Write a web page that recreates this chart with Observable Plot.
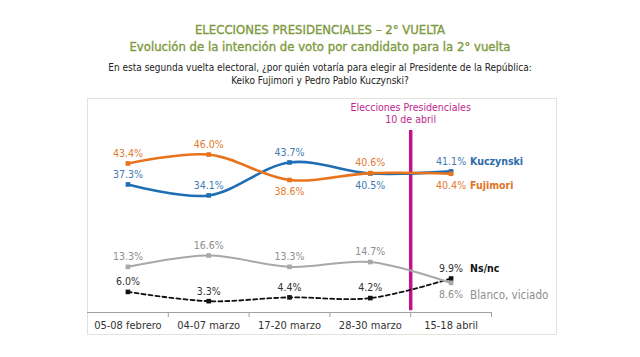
<!DOCTYPE html>
<html><head><meta charset="utf-8">
<script src="https://cdn.jsdelivr.net/npm/d3@7"></script>
<script src="https://cdn.jsdelivr.net/npm/@observablehq/plot@0.6"></script>
<style>
body{margin:0;background:#fff;font-family:"Liberation Sans Narrow","DejaVu Sans Condensed",sans-serif;}
#wrap{position:relative;width:640px;height:357px;overflow:hidden;}
.t{position:absolute;left:0;width:640px;text-align:center;white-space:nowrap;}
#t1{top:22px;font-size:13px;color:#7d9a3e;-webkit-text-stroke:0.35px #7d9a3e;}
#t2{top:39px;font-size:13px;color:#7d9a3e;-webkit-text-stroke:0.35px #7d9a3e;}
#t3{top:61px;font-size:10px;color:#222;line-height:13px;}
#frame{position:absolute;left:87px;top:98px;width:470px;height:237px;border:1px solid #e2e2da;box-sizing:border-box;}
#chart{position:absolute;left:0;top:95px;}
</style></head>
<body><div id="wrap">
<div class="t" id="t1"></div>
<div class="t" id="t2"></div>
<div class="t" id="t3"></div>
<div id="frame"></div>
<div id="chart"></div>
</div>
<script>
const title = "ELECCIONES PRESIDENCIALES – 2° VUELTA";
const subtitle = "Evolución de la intención de voto por candidato para la 2° vuelta";
const question = ["En esta segunda vuelta electoral, ¿por quién votaría para elegir al Presidente de la República:", "Keiko Fujimori y Pedro Pablo Kuczynski?"];
const periods = ["05-08 febrero", "04-07 marzo", "17-20 marzo", "28-30 marzo", "15-18 abril"];
const kuczynski = [37.3, 34.1, 43.7, 40.5, 41.1];
const fujimori = [43.4, 46.0, 38.6, 40.6, 40.4];
const nsnc = [6.0, 3.3, 4.4, 4.2, 9.9];
const blanco = [13.3, 16.6, 13.3, 14.7, 8.6];
const seriesNames = ["Kuczynski", "Fujimori", "Ns/nc", "Blanco, viciado"];
const eventLabel = ["Elecciones Presidenciales", "10 de abril"];
const eventPosition = 3.5; // between 28-30 marzo and 15-18 abril

document.getElementById("t1").textContent = title;
document.getElementById("t2").textContent = subtitle;
document.getElementById("t3").innerHTML = question.map(s => s.replace(/&/g,"&amp;").replace(/</g,"&lt;")).join("<br>");

const styles = {
  "Kuczynski": {line: "#1f6db5", label: "#3f7bb2", name: "#2a6aa8", width: 2.6, dash: null, nameWeight: "bold", nameSize: 10.5, below: [3]},
  "Fujimori": {line: "#e8731c", label: "#e3792e", name: "#e2731f", width: 2.6, dash: null, nameWeight: "bold", nameSize: 10.5, below: [2, 4]},
  "Ns/nc": {line: "#111", label: "#333", name: "#111", width: 1.8, dash: "4,3", nameWeight: "bold", nameSize: 10.5, below: []},
  "Blanco, viciado": {line: "#a8a8a8", label: "#8e8e8e", name: "#8e8e8e", width: 2, dash: null, nameWeight: "normal", nameSize: 11.5, below: [4]}
};
const values = [kuczynski, fujimori, nsnc, blanco];
const data = [];
seriesNames.forEach((s, k) => values[k].forEach((v, i) => data.push({s, i, v, below: styles[s].below.includes(i)})));
const last = data.filter(d => d.i === periods.length - 1);

const marks = [
  Plot.ruleY([0], {stroke: "#a0a0a0"}),
  Plot.axisX(d3.range(0.5, periods.length), {tickSize: 5, stroke: "#a0a0a0", tickFormat: () => "", label: null}),
  Plot.axisX(d3.range(periods.length), {tickSize: 0, tickPadding: 9, tickFormat: i => periods[i], fontSize: 11, fill: "#333", label: null}),
  Plot.ruleX([eventPosition], {y1: 0.5, y2: 53, stroke: "#c0148f", strokeWidth: 3.5}),
  Plot.text([eventLabel.join("\n")], {x: eventPosition, frameAnchor: "top", dy: -4, fill: "#c0288f", fontSize: 10.5, lineHeight: 1.15})
];
for (const s of seriesNames) {
  const st = styles[s];
  const d = data.filter(e => e.s === s);
  marks.push(Plot.line(d, {x: "i", y: "v", stroke: st.line, strokeWidth: st.width, strokeDasharray: st.dash, curve: "catmull-rom"}));
  marks.push(Plot.dot(d, {x: "i", y: "v", symbol: "square", r: 2.6, fill: st.line, stroke: "none"}));
  marks.push(Plot.text(d.filter(e => !e.below), {x: "i", y: "v", text: e => e.v.toFixed(1) + "%", dy: -10, fill: st.label, fontSize: 10.5}));
  marks.push(Plot.text(d.filter(e => e.below), {x: "i", y: "v", text: e => e.v.toFixed(1) + "%", dy: 12, fill: st.label, fontSize: 10.5}));
  const l = last.filter(e => e.s === s);
  marks.push(Plot.text(l, {x: "i", y: "v", text: "s", dx: 19, dy: l[0].below ? 12 : -10, textAnchor: "start", fill: st.name, fontWeight: st.nameWeight, fontSize: st.nameSize}));
}

const chart = Plot.plot({
  width: 640, height: 262,
  marginLeft: 87, marginRight: 149, marginTop: 11, marginBottom: 45,
  style: {fontFamily: '"Liberation Sans Narrow","DejaVu Sans Condensed",sans-serif', background: "transparent", overflow: "visible"},
  x: {type: "linear", domain: [-0.5, periods.length - 0.5], axis: null},
  y: {domain: [0, 60], axis: null},
  marks
});
document.getElementById("chart").appendChild(chart);
</script>
</body></html>
